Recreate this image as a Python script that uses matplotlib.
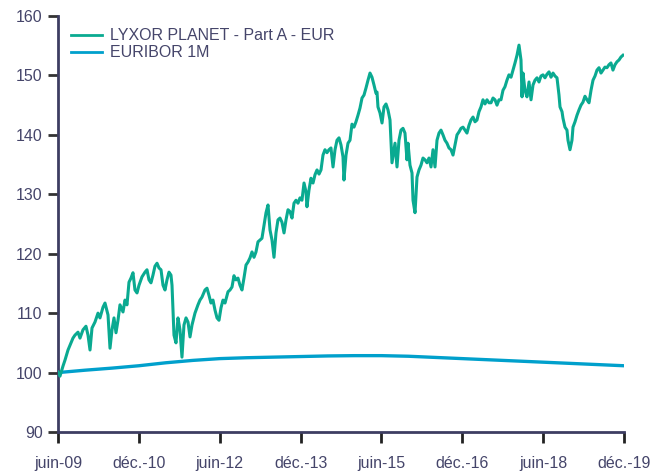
import matplotlib
matplotlib.use("Agg")
import matplotlib.pyplot as plt

plt.rcParams['font.family'] = ['Liberation Sans', 'DejaVu Sans']

# dates are decimal years (juin-09 = 2009.417)
fund_dates = [
    2009.417, 2009.454, 2009.510, 2009.547, 2009.603, 2009.640, 2009.695, 2009.732, 2009.788, 2009.825,
    2009.881, 2009.936, 2009.974, 2010.011, 2010.048, 2010.103, 2010.159, 2010.196, 2010.252, 2010.289,
    2010.345, 2010.382, 2010.419, 2010.456, 2010.493, 2010.530, 2010.567, 2010.623, 2010.660, 2010.697,
    2010.734, 2010.771, 2010.808, 2010.845, 2010.883, 2010.920, 2010.975, 2011.031, 2011.068, 2011.105,
    2011.142, 2011.179, 2011.216, 2011.254, 2011.291, 2011.328, 2011.365, 2011.402, 2011.439, 2011.476,
    2011.513, 2011.532, 2011.569, 2011.606, 2011.643, 2011.680, 2011.717, 2011.754, 2011.792, 2011.829,
    2011.866, 2011.903, 2011.958, 2012.014, 2012.051, 2012.088, 2012.144, 2012.181, 2012.218, 2012.255,
    2012.292, 2012.330, 2012.367, 2012.404, 2012.441, 2012.478, 2012.515, 2012.571, 2012.608, 2012.645,
    2012.682, 2012.719, 2012.756, 2012.793, 2012.830, 2012.867, 2012.905, 2012.942, 2012.979, 2013.016,
    2013.053, 2013.090, 2013.127, 2013.164, 2013.201, 2013.239, 2013.276, 2013.313, 2013.350, 2013.387,
    2013.424, 2013.461, 2013.498, 2013.535, 2013.572, 2013.610, 2013.647, 2013.684, 2013.721, 2013.758,
    2013.795, 2013.832, 2013.869, 2013.906, 2013.943, 2013.981, 2014.018, 2014.036, 2014.073, 2014.110,
    2014.148, 2014.185, 2014.222, 2014.259, 2014.296, 2014.333, 2014.370, 2014.407, 2014.444, 2014.481,
    2014.519, 2014.556, 2014.593, 2014.630, 2014.667, 2014.704, 2014.722, 2014.760, 2014.797, 2014.834,
    2014.871, 2014.908, 2014.945, 2014.982, 2015.019, 2015.057, 2015.094, 2015.131, 2015.168, 2015.205,
    2015.242, 2015.279, 2015.316, 2015.335, 2015.353, 2015.390, 2015.428, 2015.465, 2015.502, 2015.539,
    2015.576, 2015.613, 2015.650, 2015.669, 2015.706, 2015.743, 2015.780, 2015.817, 2015.854, 2015.891,
    2015.910, 2015.947, 2015.984, 2016.003, 2016.040, 2016.077, 2016.114, 2016.151, 2016.188, 2016.225,
    2016.262, 2016.299, 2016.337, 2016.374, 2016.411, 2016.448, 2016.485, 2016.522, 2016.559, 2016.596,
    2016.633, 2016.670, 2016.708, 2016.745, 2016.782, 2016.819, 2016.856, 2016.893, 2016.930, 2016.967,
    2017.004, 2017.041, 2017.078, 2017.116, 2017.153, 2017.190, 2017.227, 2017.264, 2017.301, 2017.338,
    2017.375, 2017.412, 2017.450, 2017.487, 2017.524, 2017.561, 2017.598, 2017.635, 2017.672, 2017.709,
    2017.746, 2017.783, 2017.821, 2017.858, 2017.895, 2017.932, 2017.969, 2018.006, 2018.025, 2018.043,
    2018.080, 2018.117, 2018.155, 2018.192, 2018.229, 2018.266, 2018.303, 2018.340, 2018.377, 2018.414,
    2018.451, 2018.488, 2018.526, 2018.563, 2018.600, 2018.637, 2018.674, 2018.711, 2018.730, 2018.767,
    2018.785, 2018.822, 2018.859, 2018.878, 2018.915, 2018.952, 2018.971, 2019.008, 2019.045, 2019.082,
    2019.119, 2019.156, 2019.193, 2019.230, 2019.268, 2019.305, 2019.342, 2019.379, 2019.416, 2019.453,
    2019.490, 2019.527, 2019.564, 2019.601, 2019.638, 2019.675, 2019.712, 2019.750, 2019.787, 2019.824,
    2019.861, 2019.898,
]
fund_values = [
    100.1, 99.4, 101.1, 102.1, 103.8, 104.6, 105.8, 106.3, 106.8, 105.8,
    107.2, 107.8, 106.3, 103.8, 107.5, 108.5, 110.0, 109.2, 111.0, 111.7,
    109.7, 104.1, 107.2, 109.2, 106.7, 108.8, 111.4, 110.2, 112.2, 111.4,
    115.2, 115.9, 116.8, 113.9, 113.4, 114.7, 116.1, 116.9, 117.3, 115.6,
    115.1, 116.4, 117.9, 118.4, 117.6, 117.3, 114.7, 113.9, 115.6, 116.9,
    116.4, 114.7, 106.3, 105.0, 109.2, 107.2, 102.6, 108.0, 109.2, 108.5,
    106.0, 108.0, 110.0, 111.4, 112.2, 112.7, 113.9, 114.2, 113.0, 111.7,
    112.2, 110.5, 109.2, 108.8, 110.9, 112.2, 111.7, 113.6, 113.9, 114.4,
    116.3, 115.6, 115.9, 114.7, 113.9, 115.9, 118.1, 118.6, 119.3, 120.3,
    119.4, 120.3, 122.0, 122.3, 122.6, 124.8, 126.9, 128.2, 124.0, 122.3,
    119.4, 123.5, 125.7, 126.0, 125.3, 123.5, 125.7, 127.4, 127.1, 126.0,
    128.5, 129.0, 128.5, 129.4, 129.0, 131.9, 130.4, 127.9, 130.7, 132.7,
    131.9, 133.3, 134.1, 133.4, 134.1, 136.6, 137.5, 137.0, 137.5, 137.8,
    134.6, 137.5, 139.1, 139.5, 138.3, 136.3, 132.4, 136.6, 138.6, 139.1,
    141.8, 141.3, 142.2, 143.3, 144.5, 146.2, 146.7, 147.9, 149.2, 150.4,
    149.7, 148.4, 147.0, 147.2, 144.7, 143.7, 142.0, 144.7, 145.2, 144.2,
    142.5, 135.3, 137.5, 138.6, 134.6, 139.1, 140.8, 141.1, 140.3, 135.8,
    138.6, 134.9, 133.6, 129.0, 126.9, 132.9, 134.1, 134.9, 136.1, 135.8,
    135.3, 136.1, 134.6, 137.5, 134.6, 139.1, 140.3, 140.8, 140.0, 139.1,
    138.6, 137.8, 137.5, 136.6, 138.3, 140.0, 140.5, 141.1, 141.3, 140.8,
    140.3, 141.6, 142.5, 143.0, 142.2, 142.5, 143.9, 144.7, 145.9, 145.2,
    145.9, 145.4, 145.4, 146.2, 145.9, 145.0, 145.9, 145.9, 147.5, 148.1,
    149.2, 150.1, 149.7, 150.9, 152.1, 153.4, 155.1, 152.6, 146.4, 150.4,
    147.5, 146.4, 148.9, 145.9, 148.4, 149.2, 149.6, 148.9, 149.9, 150.1,
    149.6, 150.2, 150.6, 149.7, 150.4, 149.9, 149.6, 146.7, 144.7, 143.9,
    142.8, 141.3, 140.8, 139.1, 137.5, 139.1, 141.3, 142.2, 143.3, 144.2,
    145.0, 145.5, 146.5, 145.9, 145.4, 147.5, 149.2, 149.9, 150.9, 151.3,
    150.4, 150.9, 151.4, 151.3, 151.8, 152.1, 150.9, 151.8, 152.3, 152.6,
    153.1, 153.4,
]

euribor_dates = [
    2009.417, 2009.917, 2010.417, 2010.917, 2011.417, 2011.917, 2012.417, 2012.917,
    2013.417, 2013.917, 2014.417, 2014.917, 2015.417, 2015.917, 2016.417, 2016.917,
    2017.417, 2017.917, 2018.417, 2018.917, 2019.417, 2019.917,
]
euribor_values = [
    100.0, 100.4, 100.75, 101.15, 101.65, 102.05, 102.35, 102.5,
    102.6, 102.7, 102.8, 102.85, 102.85, 102.75, 102.55, 102.35,
    102.15, 101.95, 101.75, 101.55, 101.35, 101.15,
]

tick_pos = [2009.417, 2010.917, 2012.417, 2013.917, 2015.417, 2016.917, 2018.417, 2019.917]
tick_labels = ["juin-09", "déc.-10", "juin-12", "déc.-13", "juin-15", "déc.-16", "juin-18", "déc.-19"]

green = "#0aaa91"
blue = "#00a0cc"
axis_col = "#3d3d62"
text_col = "#45456a"

fig = plt.figure(figsize=(6.62, 4.75), dpi=100)
ax = fig.add_axes([0.0876, 0.0905, 0.855, 0.8758])

ax.plot(euribor_dates, euribor_values, color=blue, lw=2.4, label="EURIBOR 1M", zorder=2)
ax.plot(fund_dates, fund_values, color=green, lw=2.2, label="LYXOR PLANET - Part A - EUR", zorder=3)

ax.set_xlim(tick_pos[0], tick_pos[-1])
ax.set_ylim(90, 160)
ax.set_xticks(tick_pos)
ax.set_xticklabels(tick_labels)
ax.set_yticks(range(90, 161, 10))

for s in ["top", "right"]:
    ax.spines[s].set_visible(False)
for s in ["left", "bottom"]:
    ax.spines[s].set_color(axis_col)
    ax.spines[s].set_linewidth(2)

ax.tick_params(axis="y", length=7, width=2, color="#333333", labelcolor=text_col, labelsize=11.5, pad=4)
ax.tick_params(axis="x", length=8, width=2, color="#222222", labelcolor=text_col, labelsize=11.5, pad=9)

handles, labels = ax.get_legend_handles_labels()
leg = ax.legend(handles[::-1], labels[::-1], loc="upper left", bbox_to_anchor=(-0.002, 1.005),
                frameon=False, handlelength=1.9, handletextpad=0.5, labelspacing=0.12,
                fontsize=11.5, labelcolor=text_col)
for line in leg.get_lines():
    line.set_linewidth(2)

fig.savefig("out.png", dpi=100)
